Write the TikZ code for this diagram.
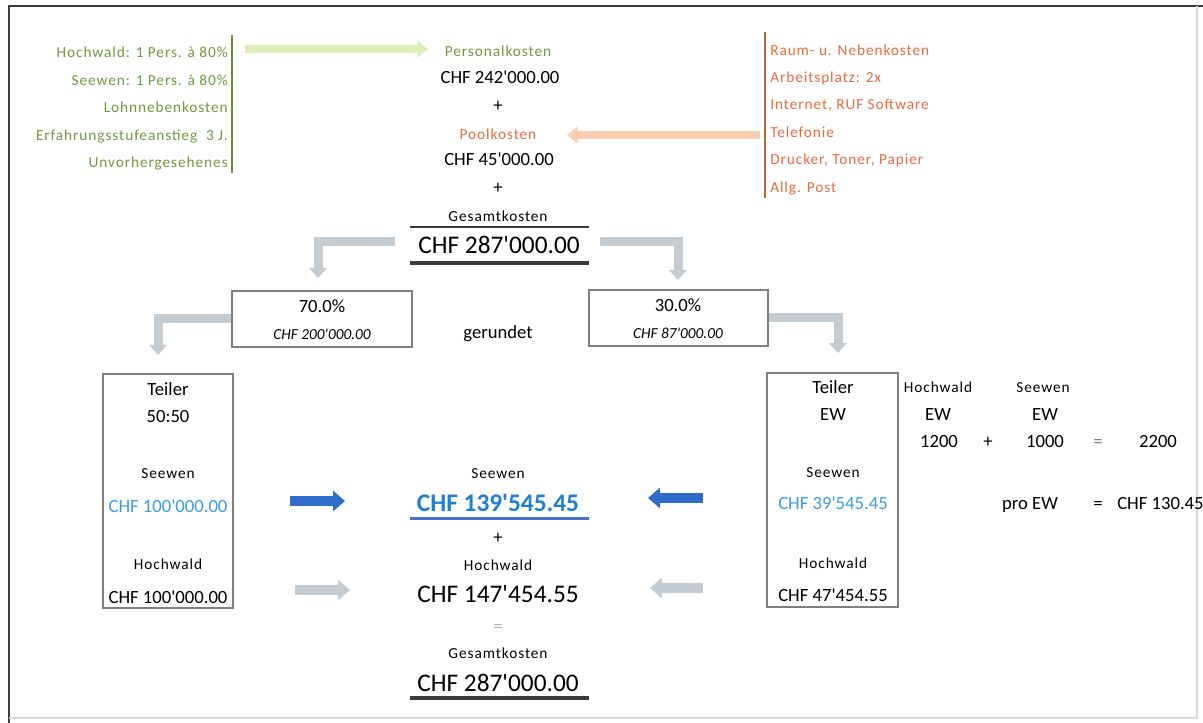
\documentclass[tikz,border=0pt]{standalone}
\usepackage{fontspec}
\setmainfont{Carlito}
\newfontfamily\spc[LetterSpace=6]{Carlito}
\newcommand\ap{\textquotesingle}
\usetikzlibrary{arrows.meta}
\definecolor{grntxt}{HTML}{6F9A3F}
\definecolor{grnline}{HTML}{6B8A34}
\definecolor{grnarr}{HTML}{DCEEB6}
\definecolor{orgtxt}{HTML}{EA6A3C}
\definecolor{orgline}{HTML}{C4662E}
\definecolor{orgarr}{HTML}{FCCDB0}
\definecolor{blutxt}{HTML}{3C9BE6}
\definecolor{blubold}{HTML}{1F7FD6}
\definecolor{bluarr}{HTML}{2F6DCB}
\definecolor{bluline}{HTML}{4A72C8}
\definecolor{grayarr}{HTML}{C4CCD2}
\definecolor{boxgray}{HTML}{808080}
\definecolor{rule}{HTML}{3A3A3A}
\tikzset{
  lbl/.style={font=\spc\fontsize{11.5}{13}\selectfont, inner sep=0pt, anchor=base},
  val/.style={font=\fontsize{14}{16}\selectfont, inner sep=0pt, anchor=base},
  big/.style={font=\fontsize{19}{22}\selectfont, inner sep=0pt, anchor=base},
  boxnode/.style={draw=boxgray, line width=1.1pt, inner sep=0pt},
  bentarr/.style={draw=grayarr, line width=6.75pt, -{Triangle[width=13pt,length=7.5pt]}},
  bluearr/.style={draw=bluarr, line width=7.5pt, -{Triangle[width=15pt,length=9pt]}},
  grayflat/.style={draw=grayarr, line width=7.5pt, -{Triangle[width=15pt,length=9pt]}},
  greenarr/.style={draw=grnarr, line width=6pt, -{Triangle[width=12.5pt,length=8pt]}},
  orangearr/.style={draw=orgarr, line width=6pt, -{Triangle[width=12.5pt,length=8pt]}},
}
\begin{document}
\begin{tikzpicture}[x=0.75pt,y=-0.75pt]
\useasboundingbox (0,0) rectangle (1203,723);
% frame
\draw[rule, line width=1.5pt] (9,723) -- (9,6) -- (1203,6);
\draw[gray!30, line width=0.8pt] (1197,6) -- (1197,718) -- (9,718);

% green list
\draw[grnline, line width=1.5pt] (232,35) -- (232,173);
\node[lbl, anchor=base east, text=grntxt] (g1) at (228,58) {Hochwald: 1 Pers. à 80\%};
\node[lbl, anchor=base east, text=grntxt] (g2) at (228,86) {Seewen: 1 Pers. à 80\%};
\node[lbl, anchor=base east, text=grntxt] (g3) at (228,113) {Lohnnebenkosten};
\node[lbl, anchor=base east, text=grntxt] (g4) at (228,141) {Erfahrungsstufeanstieg\ \ 3 J.};
\node[lbl, anchor=base east, text=grntxt] (g5) at (228,168) {Unvorhergesehenes};

% orange list
\draw[orgline, line width=1.5pt] (765,32) -- (765,198);
\node[lbl, anchor=base west, text=orgtxt] (o1) at (770,56) {Raum- u. Nebenkosten};
\node[lbl, anchor=base west, text=orgtxt] (o2) at (770,83) {Arbeitsplatz: 2x};
\node[lbl, anchor=base west, text=orgtxt] (o3) at (770,110) {Internet, RUF Software};
\node[lbl, anchor=base west, text=orgtxt] (o4) at (770,138) {Telefonie};
\node[lbl, anchor=base west, text=orgtxt] (o5) at (770,165) {Drucker, Toner, Papier};
\node[lbl, anchor=base west, text=orgtxt] (o6) at (770,193) {Allg. Post};

% center top column
\node[lbl, text=grntxt] (persk) at (498,57) {Personalkosten};
\node[val] (pk) at (500,84) {CHF 242\ap000.00};
\node[val] (plus1) at (498,112) {+};
\node[lbl, text=orgtxt] (poolk) at (498,140) {Poolkosten};
\node[val] (pool) at (499,166) {CHF 45\ap000.00};
\node[val] (plus2) at (498,194) {+};
\node[lbl] (gk1) at (498,222) {Gesamtkosten};
\node[big] (tot1) at (499,254) {CHF 287\ap000.00};
\draw[rule, line width=1.5pt] (410,227) -- (589,227);
\draw[rule, line width=3pt] (410,263) -- (589,263);

% green and orange arrows
\coordinate (ga1) at (245,49);
\coordinate (ga2) at (428,49);
\draw[greenarr] (ga1) -- (ga2);
\coordinate (oa1) at (760,135);
\coordinate (oa2) at (567,135);
\draw[orangearr] (oa1) -- (oa2);

% split boxes
\node[boxnode, minimum width=135pt, minimum height=42pt] (box70) at (322,319) {};
\node[val] (p70) at (322,313) {70.0\%};
\node[font=\itshape\fontsize{11.5}{13}\selectfont, inner sep=0pt, anchor=base] (c70) at (322,340) {CHF 200\ap000.00};
\node[val] (ger) at (498,339) {gerundet};
\node[boxnode, minimum width=134.25pt, minimum height=42pt] (box30) at (678.5,318) {};
\node[val] (p30) at (678,312) {30.0\%};
\node[font=\itshape\fontsize{11.5}{13}\selectfont, inner sep=0pt, anchor=base] (c30) at (678,339) {CHF 87\ap000.00};

% bent gray arrows
\coordinate (b1s) at (395,242);
\coordinate (b1e) at (318,278);
\draw[bentarr] (b1s) -| (b1e);
\coordinate (b2s) at (600,242);
\coordinate (b2e) at (678,280);
\draw[bentarr] (b2s) -| (b2e);
\coordinate (b3e) at (158,355);
\draw[bentarr] (box70.west) -| (b3e);
\coordinate (b4e) at (838,353);
\draw[bentarr] (box30.east) -| (b4e);

% left Teiler box
\node[boxnode, minimum width=97.5pt, minimum height=175.5pt] (tl) at (168,491) {};
\node[val] (tl1) at (168,396) {Teiler};
\node[val] (tl2) at (168,423) {50:50};
\node[lbl] (tl3) at (168,479) {Seewen};
\node[val, text=blutxt] (tl4) at (168,512) {CHF 100\ap000.00};
\node[lbl] (tl5) at (168,569) {Hochwald};
\node[val] (tl6) at (168,603) {CHF 100\ap000.00};

% right Teiler box
\node[boxnode, minimum width=98.25pt, minimum height=175.5pt] (tr) at (832.5,490) {};
\node[val] (tr1) at (833,394) {Teiler};
\node[val] (tr2) at (833,421) {EW};
\node[lbl] (tr3) at (833,477) {Seewen};
\node[val, text=blutxt] (tr4) at (833,509) {CHF 39\ap545.45};
\node[lbl] (tr5) at (833,568) {Hochwald};
\node[val] (tr6) at (833,601) {CHF 47\ap454.55};

% bottom center column
\node[lbl] (bs) at (498,478) {Seewen};
\node[big, text=blubold, font=\bfseries\fontsize{19}{22}\selectfont] (bsv) at (498,511) {CHF 139\ap545.45};
\draw[bluline, line width=2.25pt] (410,518) -- (589,518);
\node[val] (plus3) at (498,543) {+};
\node[lbl] (bh) at (498,570) {Hochwald};
\node[big] (bhv) at (498,602) {CHF 147\ap454.55};
\node[val, text=gray!60] (eq1) at (498,632) {=};
\node[lbl] (gk2) at (498,658) {Gesamtkosten};
\node[big] (tot2) at (498,691) {CHF 287\ap000.00};
\draw[rule, line width=3pt] (410,698) -- (589,698);

% horizontal arrows
\coordinate (a1s) at (290,501); \coordinate (a1e) at (345,501);
\draw[bluearr] (a1s) -- (a1e);
\coordinate (a2s) at (295,590); \coordinate (a2e) at (350,590);
\draw[grayflat] (a2s) -- (a2e);
\coordinate (a3s) at (703,498); \coordinate (a3e) at (648,498);
\draw[bluearr] (a3s) -- (a3e);
\coordinate (a4s) at (703,588); \coordinate (a4e) at (650,588);
\draw[grayflat] (a4s) -- (a4e);

% right side computation
\node[lbl] (rh) at (938,393) {Hochwald};
\node[lbl] (rs) at (1043,393) {Seewen};
\node[val] (re1) at (938,421) {EW};
\node[val] (re2) at (1045,421) {EW};
\node[val] (n1) at (939,448) {1200};
\node[val] (np) at (988,448) {+};
\node[val] (n2) at (1045,448) {1000};
\node[val, text=gray] (neq) at (1098,448) {=};
\node[val] (n3) at (1158,448) {2200};
\node[val] (proew) at (1030,509) {pro EW};
\node[val] (peq) at (1098,509) {=};
\node[val, anchor=base west] (pval) at (1117,509) {CHF 130.45};
\end{tikzpicture}
\end{document}
